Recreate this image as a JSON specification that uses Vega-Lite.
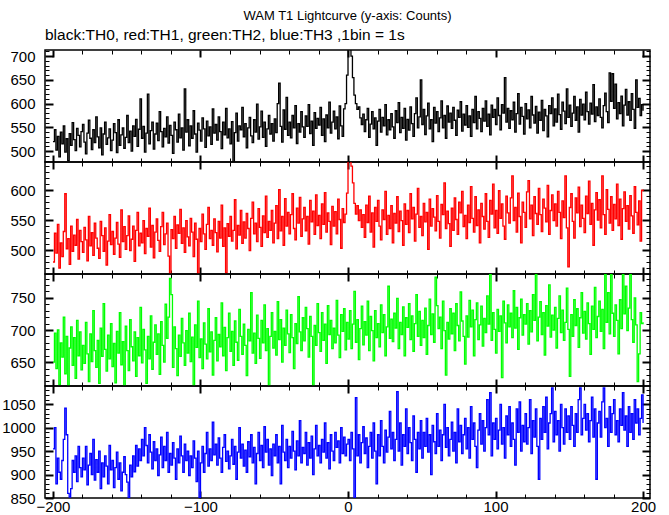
{
"$schema": "https://vega.github.io/schema/vega-lite/v6.json",
"background": "white",
"bounds": "flush",
"padding": {"left": 0, "right": 10, "top": 10, "bottom": 0},
"title": {"text": "WAM T1 Lightcurve (y-axis: Counts)", "anchor": "middle", "frame": "group", "fontSize": 13, "fontWeight": "normal", "font": "Liberation Sans", "color": "black", "offset": 4},
"config": {
  "view": {"stroke": "black", "strokeWidth": 1.5},
  "axis": {"domain": false, "grid": false, "labelFont": "Liberation Sans", "labelFontSize": 15, "labelColor": "black", "tickColor": "black", "labelOverlap": false, "labelFlush": false, "labelBound": false, "format": "d"}
},
"data": {"values": [
{"t":-200,"a":520,"b":480,"c":650,"d":955},{"t":-199,"a":545,"b":528,"c":695,"d":1000},{"t":-198,"a":502,"b":495,"c":640,"d":880},{"t":-197,"a":531,"b":543,"c":700,"d":935},{"t":-196,"a":488,"b":470,"c":615,"d":905},{"t":-195,"a":540,"b":512,"c":680,"d":890},{"t":-194,"a":515,"b":489,"c":658,"d":930},{"t":-193,"a":553,"b":531,"c":720,"d":975},{"t":-192,"a":498,"b":594,"c":632,"d":1042},{"t":-191,"a":526,"b":502,"c":690,"d":985},
{"t":-190,"a":480,"b":519,"c":610,"d":860},{"t":-189,"a":537,"b":476,"c":672,"d":852},{"t":-188,"a":512,"b":540,"c":705,"d":870},{"t":-187,"a":560,"b":498,"c":645,"d":930},{"t":-186,"a":524,"b":525,"c":688,"d":905},{"t":-185,"a":501,"b":508,"c":625,"d":940},{"t":-184,"a":548,"b":551,"c":715,"d":885},{"t":-183,"a":533,"b":485,"c":660,"d":960},{"t":-182,"a":509,"b":533,"c":697,"d":915},{"t":-181,"a":541,"b":514,"c":638,"d":895},
{"t":-180,"a":556,"b":496,"c":676,"d":935},{"t":-179,"a":519,"b":538,"c":648,"d":910},{"t":-178,"a":494,"b":517,"c":712,"d":960},{"t":-177,"a":538,"b":482,"c":663,"d":878},{"t":-176,"a":565,"b":556,"c":620,"d":920},{"t":-175,"a":527,"b":507,"c":694,"d":945},{"t":-174,"a":503,"b":529,"c":651,"d":900},{"t":-173,"a":545,"b":491,"c":730,"d":975},{"t":-172,"a":518,"b":545,"c":668,"d":888},{"t":-171,"a":572,"b":520,"c":642,"d":932},
{"t":-170,"a":530,"b":503,"c":684,"d":905},{"t":-169,"a":507,"b":486,"c":617,"d":950},{"t":-168,"a":549,"b":548,"c":703,"d":870},{"t":-167,"a":492,"b":524,"c":659,"d":925},{"t":-166,"a":536,"b":498,"c":741,"d":895},{"t":-165,"a":561,"b":537,"c":670,"d":940},{"t":-164,"a":514,"b":475,"c":636,"d":918},{"t":-163,"a":528,"b":515,"c":692,"d":880},{"t":-162,"a":547,"b":559,"c":655,"d":962},{"t":-161,"a":501,"b":509,"c":710,"d":910},
{"t":-160,"a":523,"b":531,"c":643,"d":930},{"t":-159,"a":558,"b":493,"c":679,"d":872},{"t":-158,"a":539,"b":520,"c":618,"d":915},{"t":-157,"a":497,"b":546,"c":698,"d":948},{"t":-156,"a":566,"b":510,"c":664,"d":890},{"t":-155,"a":512,"b":488,"c":727,"d":925},{"t":-154,"a":534,"b":567,"c":646,"d":865},{"t":-153,"a":549,"b":514,"c":682,"d":905},{"t":-152,"a":506,"b":539,"c":613,"d":938},{"t":-151,"a":529,"b":501,"c":706,"d":900},
{"t":-150,"a":575,"b":524,"c":668,"d":884},{"t":-149,"a":518,"b":557,"c":637,"d":851},{"t":-148,"a":542,"b":499,"c":716,"d":920},{"t":-147,"a":500,"b":518,"c":674,"d":895},{"t":-146,"a":553,"b":540,"c":652,"d":940},{"t":-145,"a":531,"b":481,"c":697,"d":906},{"t":-144,"a":567,"b":533,"c":628,"d":962},{"t":-143,"a":510,"b":563,"c":688,"d":918},{"t":-142,"a":546,"b":507,"c":660,"d":955},{"t":-141,"a":610,"b":528,"c":735,"d":930},
{"t":-140,"a":527,"b":512,"c":649,"d":975},{"t":-139,"a":552,"b":549,"c":701,"d":940},{"t":-138,"a":498,"b":494,"c":669,"d":1000},{"t":-137,"a":538,"b":536,"c":617,"d":962},{"t":-136,"a":620,"b":523,"c":690,"d":925},{"t":-135,"a":515,"b":570,"c":655,"d":985},{"t":-134,"a":543,"b":505,"c":722,"d":948},{"t":-133,"a":561,"b":541,"c":639,"d":912},{"t":-132,"a":504,"b":487,"c":681,"d":970},{"t":-131,"a":536,"b":530,"c":708,"d":930},
{"t":-130,"a":559,"b":552,"c":662,"d":955},{"t":-129,"a":522,"b":516,"c":694,"d":898},{"t":-128,"a":583,"b":498,"c":631,"d":942},{"t":-127,"a":541,"b":539,"c":713,"d":980},{"t":-126,"a":509,"b":563,"c":676,"d":915},{"t":-125,"a":548,"b":509,"c":650,"d":960},{"t":-124,"a":530,"b":527,"c":740,"d":930},{"t":-123,"a":572,"b":545,"c":687,"d":990},{"t":-122,"a":517,"b":490,"c":720,"d":905},{"t":-121,"a":554,"b":460,"c":780,"d":945},
{"t":-120,"a":533,"b":534,"c":755,"d":920},{"t":-119,"a":495,"b":519,"c":642,"d":968},{"t":-118,"a":561,"b":556,"c":705,"d":935},{"t":-117,"a":545,"b":503,"c":671,"d":890},{"t":-116,"a":519,"b":542,"c":629,"d":955},{"t":-115,"a":578,"b":528,"c":692,"d":925},{"t":-114,"a":528,"b":568,"c":659,"d":982},{"t":-113,"a":549,"b":511,"c":718,"d":940},{"t":-112,"a":502,"b":537,"c":680,"d":905},{"t":-111,"a":631,"b":496,"c":645,"d":965},
{"t":-110,"a":540,"b":549,"c":699,"d":930},{"t":-109,"a":566,"b":522,"c":664,"d":950},{"t":-108,"a":511,"b":507,"c":726,"d":898},{"t":-107,"a":553,"b":553,"c":651,"d":940},{"t":-106,"a":527,"b":530,"c":689,"d":915},{"t":-105,"a":585,"b":489,"c":614,"d":972},{"t":-104,"a":536,"b":545,"c":708,"d":935},{"t":-103,"a":498,"b":518,"c":673,"d":885},{"t":-102,"a":559,"b":461,"c":745,"d":950},{"t":-101,"a":544,"b":536,"c":657,"d":850},
{"t":-100,"a":521,"b":514,"c":686,"d":925},{"t":-99,"a":570,"b":560,"c":640,"d":960},{"t":-98,"a":547,"b":527,"c":711,"d":905},{"t":-97,"a":508,"b":501,"c":678,"d":945},{"t":-96,"a":563,"b":543,"c":655,"d":990},{"t":-95,"a":532,"b":571,"c":733,"d":918},{"t":-94,"a":551,"b":519,"c":666,"d":955},{"t":-93,"a":514,"b":533,"c":697,"d":930},{"t":-92,"a":589,"b":508,"c":630,"d":1012},{"t":-91,"a":538,"b":552,"c":684,"d":942},
{"t":-90,"a":556,"b":529,"c":719,"d":965},{"t":-89,"a":523,"b":497,"c":652,"d":920},{"t":-88,"a":572,"b":548,"c":693,"d":978},{"t":-87,"a":541,"b":520,"c":674,"d":935},{"t":-86,"a":505,"b":575,"c":742,"d":905},{"t":-85,"a":561,"b":506,"c":660,"d":958},{"t":-84,"a":534,"b":537,"c":704,"d":985},{"t":-83,"a":590,"b":462,"c":637,"d":928},{"t":-82,"a":528,"b":544,"c":688,"d":950},{"t":-81,"a":547,"b":523,"c":726,"d":912},
{"t":-80,"a":515,"b":556,"c":667,"d":940},{"t":-79,"a":562,"b":515,"c":698,"d":975},{"t":-78,"a":468,"b":533,"c":645,"d":922},{"t":-77,"a":539,"b":584,"c":714,"d":960},{"t":-76,"a":580,"b":502,"c":681,"d":890},{"t":-75,"a":521,"b":541,"c":653,"d":948},{"t":-74,"a":553,"b":525,"c":732,"d":1000},{"t":-73,"a":545,"b":566,"c":690,"d":935},{"t":-72,"a":592,"b":511,"c":662,"d":965},{"t":-71,"a":530,"b":547,"c":709,"d":918},
{"t":-70,"a":558,"b":520,"c":676,"d":952},{"t":-69,"a":507,"b":561,"c":629,"d":905},{"t":-68,"a":549,"b":536,"c":701,"d":970},{"t":-67,"a":571,"b":499,"c":683,"d":938},{"t":-66,"a":532,"b":553,"c":758,"d":985},{"t":-65,"a":518,"b":580,"c":664,"d":925},{"t":-64,"a":566,"b":527,"c":695,"d":958},{"t":-63,"a":540,"b":545,"c":648,"d":880},{"t":-62,"a":599,"b":514,"c":723,"d":945},{"t":-61,"a":525,"b":569,"c":687,"d":990},
{"t":-60,"a":551,"b":538,"c":656,"d":930},{"t":-59,"a":584,"b":506,"c":715,"d":962},{"t":-58,"a":529,"b":557,"c":680,"d":915},{"t":-57,"a":561,"b":529,"c":739,"d":1002},{"t":-56,"a":510,"b":590,"c":668,"d":948},{"t":-55,"a":547,"b":521,"c":702,"d":975},{"t":-54,"a":575,"b":548,"c":612,"d":920},{"t":-53,"a":536,"b":533,"c":690,"d":955},{"t":-52,"a":558,"b":566,"c":727,"d":898},{"t":-51,"a":521,"b":512,"c":672,"d":965},
{"t":-50,"a":568,"b":545,"c":698,"d":940},{"t":-49,"a":539,"b":574,"c":661,"d":985},{"t":-48,"a":600,"b":519,"c":744,"d":925},{"t":-47,"a":643,"b":601,"c":685,"d":960},{"t":-46,"a":552,"b":532,"c":716,"d":880},{"t":-45,"a":519,"b":556,"c":650,"d":1005},{"t":-44,"a":587,"b":508,"c":703,"d":948},{"t":-43,"a":546,"b":586,"c":676,"d":930},{"t":-42,"a":613,"b":540,"c":731,"d":975},{"t":-41,"a":533,"b":563,"c":694,"d":915},
{"t":-40,"a":561,"b":527,"c":665,"d":960},{"t":-39,"a":528,"b":559,"c":724,"d":935},{"t":-38,"a":575,"b":594,"c":688,"d":992},{"t":-37,"a":549,"b":536,"c":640,"d":950},{"t":-36,"a":596,"b":517,"c":710,"d":910},{"t":-35,"a":516,"b":570,"c":679,"d":972},{"t":-34,"a":558,"b":545,"c":752,"d":940},{"t":-33,"a":540,"b":588,"c":697,"d":1015},{"t":-32,"a":583,"b":523,"c":668,"d":925},{"t":-31,"a":551,"b":552,"c":719,"d":958},
{"t":-30,"a":529,"b":571,"c":683,"d":945},{"t":-29,"a":574,"b":532,"c":735,"d":990},{"t":-28,"a":552,"b":556,"c":702,"d":920},{"t":-27,"a":598,"b":510,"c":658,"d":968},{"t":-26,"a":537,"b":583,"c":721,"d":935},{"t":-25,"a":563,"b":547,"c":690,"d":982},{"t":-24,"a":512,"b":565,"c":614,"d":900},{"t":-23,"a":581,"b":526,"c":707,"d":955},{"t":-22,"a":548,"b":592,"c":676,"d":1005},{"t":-21,"a":569,"b":541,"c":741,"d":940},
{"t":-20,"a":555,"b":558,"c":696,"d":962},{"t":-19,"a":592,"b":519,"c":667,"d":925},{"t":-18,"a":533,"b":577,"c":727,"d":975},{"t":-17,"a":568,"b":543,"c":684,"d":948},{"t":-16,"a":520,"b":596,"c":709,"d":1010},{"t":-15,"a":576,"b":530,"c":648,"d":935},{"t":-14,"a":549,"b":562,"c":738,"d":968},{"t":-13,"a":603,"b":548,"c":693,"d":912},{"t":-12,"a":538,"b":509,"c":715,"d":985},{"t":-11,"a":561,"b":573,"c":671,"d":950},
{"t":-10,"a":584,"b":540,"c":703,"d":930},{"t":-9,"a":547,"b":564,"c":680,"d":990},{"t":-8,"a":572,"b":527,"c":746,"d":958},{"t":-7,"a":526,"b":585,"c":692,"d":972},{"t":-6,"a":595,"b":551,"c":657,"d":925},{"t":-5,"a":553,"b":503,"c":724,"d":1000},{"t":-4,"a":531,"b":569,"c":698,"d":945},{"t":-3,"a":589,"b":546,"c":733,"d":980},{"t":-2,"a":600,"b":560,"c":669,"d":940},{"t":-1,"a":660,"b":595,"c":712,"d":965},
{"t":0,"a":730,"b":650,"c":686,"d":975},{"t":1,"a":725,"b":658,"c":730,"d":930},{"t":2,"a":700,"b":640,"c":671,"d":990},{"t":3,"a":655,"b":612,"c":709,"d":955},{"t":4,"a":618,"b":578,"c":760,"d":848},{"t":5,"a":600,"b":560,"c":681,"d":1064},{"t":6,"a":588,"b":574,"c":716,"d":940},{"t":7,"a":593,"b":549,"c":654,"d":985},{"t":8,"a":570,"b":567,"c":702,"d":925},{"t":9,"a":556,"b":538,"c":737,"d":968},
{"t":10,"a":578,"b":559,"c":677,"d":1002},{"t":11,"a":541,"b":521,"c":713,"d":945},{"t":12,"a":566,"b":575,"c":692,"d":978},{"t":13,"a":590,"b":546,"c":745,"d":915},{"t":14,"a":529,"b":590,"c":668,"d":960},{"t":15,"a":557,"b":530,"c":721,"d":990},{"t":16,"a":583,"b":562,"c":699,"d":935},{"t":17,"a":547,"b":505,"c":652,"d":1010},{"t":18,"a":570,"b":571,"c":730,"d":950},{"t":19,"a":512,"b":548,"c":688,"d":880},
{"t":20,"a":563,"b":583,"c":710,"d":985},{"t":21,"a":588,"b":540,"c":674,"d":940},{"t":22,"a":540,"b":517,"c":739,"d":1015},{"t":23,"a":571,"b":567,"c":696,"d":960},{"t":24,"a":553,"b":551,"c":724,"d":925},{"t":25,"a":598,"b":598,"c":660,"d":995},{"t":26,"a":534,"b":526,"c":705,"d":948},{"t":27,"a":566,"b":558,"c":768,"d":980},{"t":28,"a":545,"b":536,"c":687,"d":1035},{"t":29,"a":579,"b":574,"c":717,"d":955},
{"t":30,"a":551,"b":512,"c":682,"d":990},{"t":31,"a":527,"b":561,"c":726,"d":930},{"t":32,"a":585,"b":545,"c":703,"d":975},{"t":33,"a":560,"b":589,"c":749,"d":1077},{"t":34,"a":602,"b":531,"c":671,"d":950},{"t":35,"a":539,"b":565,"c":712,"d":1010},{"t":36,"a":571,"b":549,"c":693,"d":920},{"t":37,"a":548,"b":508,"c":736,"d":985},{"t":38,"a":590,"b":577,"c":660,"d":960},{"t":39,"a":523,"b":543,"c":719,"d":1040},
{"t":40,"a":567,"b":566,"c":704,"d":945},{"t":41,"a":544,"b":529,"c":741,"d":1000},{"t":42,"a":593,"b":594,"c":685,"d":968},{"t":43,"a":558,"b":552,"c":722,"d":930},{"t":44,"a":531,"b":571,"c":667,"d":1025},{"t":45,"a":579,"b":515,"c":710,"d":975},{"t":46,"a":612,"b":560,"c":755,"d":905},{"t":47,"a":549,"b":603,"c":690,"d":990},{"t":48,"a":572,"b":538,"c":729,"d":955},{"t":49,"a":650,"b":556,"c":676,"d":1015},
{"t":50,"a":556,"b":524,"c":715,"d":935},{"t":51,"a":588,"b":578,"c":688,"d":990},{"t":52,"a":535,"b":547,"c":734,"d":960},{"t":53,"a":574,"b":563,"c":662,"d":1020},{"t":54,"a":601,"b":501,"c":707,"d":948},{"t":55,"a":547,"b":585,"c":748,"d":985},{"t":56,"a":566,"b":540,"c":693,"d":900},{"t":57,"a":520,"b":569,"c":725,"d":1005},{"t":58,"a":592,"b":555,"c":681,"d":970},{"t":59,"a":559,"b":532,"c":782,"d":945},
{"t":60,"a":583,"b":591,"c":738,"d":1030},{"t":61,"a":541,"b":548,"c":702,"d":960},{"t":62,"a":570,"b":520,"c":720,"d":995},{"t":63,"a":606,"b":576,"c":671,"d":930},{"t":64,"a":549,"b":559,"c":745,"d":985},{"t":65,"a":575,"b":612,"c":699,"d":1050},{"t":66,"a":527,"b":536,"c":630,"d":958},{"t":67,"a":595,"b":565,"c":712,"d":1000},{"t":68,"a":561,"b":544,"c":686,"d":940},{"t":69,"a":580,"b":506,"c":733,"d":975},
{"t":70,"a":548,"b":570,"c":694,"d":1012},{"t":71,"a":592,"b":533,"c":726,"d":950},{"t":72,"a":565,"b":587,"c":668,"d":990},{"t":73,"a":533,"b":551,"c":741,"d":925},{"t":74,"a":586,"b":526,"c":707,"d":1040},{"t":75,"a":571,"b":580,"c":683,"d":970},{"t":76,"a":604,"b":562,"c":759,"d":1005},{"t":77,"a":542,"b":598,"c":714,"d":945},{"t":78,"a":578,"b":539,"c":690,"d":985},{"t":79,"a":555,"b":558,"c":647,"d":1020},
{"t":80,"a":596,"b":519,"c":722,"d":955},{"t":81,"a":550,"b":575,"c":689,"d":1000},{"t":82,"a":574,"b":546,"c":746,"d":935},{"t":83,"a":531,"b":606,"c":705,"d":1045},{"t":84,"a":588,"b":553,"c":731,"d":975},{"t":85,"a":560,"b":530,"c":660,"d":1010},{"t":86,"a":615,"b":589,"c":716,"d":960},{"t":87,"a":547,"b":541,"c":742,"d":915},{"t":88,"a":583,"b":567,"c":685,"d":995},{"t":89,"a":569,"b":512,"c":708,"d":1030},
{"t":90,"a":541,"b":578,"c":737,"d":965},{"t":91,"a":590,"b":556,"c":675,"d":1015},{"t":92,"a":563,"b":535,"c":718,"d":950},{"t":93,"a":606,"b":594,"c":696,"d":1000},{"t":94,"a":552,"b":548,"c":753,"d":1060},{"t":95,"a":578,"b":521,"c":709,"d":985},{"t":96,"a":534,"b":583,"c":786,"d":1075},{"t":97,"a":597,"b":560,"c":684,"d":940},{"t":98,"a":571,"b":610,"c":727,"d":1010},{"t":99,"a":588,"b":537,"c":701,"d":975},
{"t":100,"a":556,"b":566,"c":664,"d":1020},{"t":101,"a":612,"b":528,"c":732,"d":955},{"t":102,"a":575,"b":599,"c":698,"d":995},{"t":103,"a":545,"b":553,"c":722,"d":1050},{"t":104,"a":598,"b":577,"c":626,"d":965},{"t":105,"a":580,"b":540,"c":745,"d":1000},{"t":106,"a":655,"b":518,"c":711,"d":935},{"t":107,"a":561,"b":590,"c":680,"d":1025},{"t":108,"a":590,"b":562,"c":739,"d":985},{"t":109,"a":548,"b":545,"c":705,"d":1045},
{"t":110,"a":585,"b":587,"c":726,"d":960},{"t":111,"a":566,"b":624,"c":688,"d":1010},{"t":112,"a":603,"b":549,"c":761,"d":975},{"t":113,"a":540,"b":571,"c":703,"d":920},{"t":114,"a":579,"b":530,"c":735,"d":1040},{"t":115,"a":621,"b":595,"c":670,"d":990},{"t":116,"a":557,"b":556,"c":719,"d":1055},{"t":117,"a":592,"b":512,"c":748,"d":950},{"t":118,"a":573,"b":580,"c":692,"d":1005},{"t":119,"a":536,"b":563,"c":724,"d":970},
{"t":120,"a":600,"b":538,"c":709,"d":1030},{"t":121,"a":568,"b":597,"c":741,"d":965},{"t":122,"a":587,"b":616,"c":678,"d":1000},{"t":123,"a":549,"b":552,"c":730,"d":1060},{"t":124,"a":615,"b":575,"c":697,"d":945},{"t":125,"a":576,"b":524,"c":755,"d":1015},{"t":126,"a":559,"b":589,"c":715,"d":980},{"t":127,"a":594,"b":561,"c":786,"d":1040},{"t":128,"a":538,"b":543,"c":683,"d":960},{"t":129,"a":582,"b":603,"c":720,"d":890},
{"t":130,"a":565,"b":559,"c":744,"d":1020},{"t":131,"a":607,"b":531,"c":693,"d":975},{"t":132,"a":543,"b":585,"c":727,"d":1045},{"t":133,"a":588,"b":570,"c":661,"d":990},{"t":134,"a":574,"b":547,"c":738,"d":1065},{"t":135,"a":530,"b":608,"c":706,"d":955},{"t":136,"a":596,"b":526,"c":770,"d":1010},{"t":137,"a":579,"b":566,"c":689,"d":1030},{"t":138,"a":612,"b":592,"c":723,"d":1085},{"t":139,"a":553,"b":549,"c":700,"d":970},
{"t":140,"a":589,"b":577,"c":735,"d":1035},{"t":141,"a":561,"b":540,"c":672,"d":985},{"t":142,"a":620,"b":598,"c":718,"d":1015},{"t":143,"a":577,"b":563,"c":753,"d":950},{"t":144,"a":546,"b":519,"c":696,"d":1050},{"t":145,"a":603,"b":582,"c":731,"d":1000},{"t":146,"a":584,"b":554,"c":684,"d":965},{"t":147,"a":558,"b":624,"c":712,"d":1040},{"t":148,"a":631,"b":537,"c":765,"d":990},{"t":149,"a":571,"b":472,"c":701,"d":1025},
{"t":150,"a":597,"b":571,"c":628,"d":975},{"t":151,"a":552,"b":594,"c":724,"d":1045},{"t":152,"a":580,"b":548,"c":690,"d":1005},{"t":153,"a":615,"b":520,"c":747,"d":960},{"t":154,"a":565,"b":587,"c":707,"d":1030},{"t":155,"a":593,"b":562,"c":733,"d":990},{"t":156,"a":540,"b":605,"c":673,"d":1060},{"t":157,"a":609,"b":539,"c":719,"d":1085},{"t":158,"a":576,"b":575,"c":758,"d":985},{"t":159,"a":599,"b":553,"c":695,"d":1020},
{"t":160,"a":566,"b":529,"c":729,"d":1050},{"t":161,"a":624,"b":590,"c":686,"d":995},{"t":162,"a":583,"b":561,"c":742,"d":1030},{"t":163,"a":557,"b":615,"c":710,"d":970},{"t":164,"a":601,"b":543,"c":662,"d":1015},{"t":165,"a":578,"b":578,"c":737,"d":1065},{"t":166,"a":640,"b":508,"c":701,"d":980},{"t":167,"a":562,"b":567,"c":766,"d":1040},{"t":168,"a":593,"b":596,"c":688,"d":890},{"t":169,"a":575,"b":550,"c":721,"d":1010},
{"t":170,"a":610,"b":584,"c":745,"d":1035},{"t":171,"a":571,"b":537,"c":698,"d":980},{"t":172,"a":549,"b":624,"c":732,"d":1055},{"t":173,"a":596,"b":559,"c":671,"d":1085},{"t":174,"a":622,"b":526,"c":786,"d":1000},{"t":175,"a":583,"b":601,"c":712,"d":1020},{"t":176,"a":560,"b":568,"c":758,"d":960},{"t":177,"a":665,"b":545,"c":694,"d":1045},{"t":178,"a":605,"b":589,"c":786,"d":990},{"t":179,"a":663,"b":533,"c":726,"d":1030},
{"t":180,"a":590,"b":576,"c":690,"d":1060},{"t":181,"a":641,"b":552,"c":739,"d":985},{"t":182,"a":568,"b":610,"c":715,"d":1015},{"t":183,"a":602,"b":541,"c":663,"d":970},{"t":184,"a":579,"b":585,"c":747,"d":1040},{"t":185,"a":616,"b":518,"c":702,"d":1005},{"t":186,"a":553,"b":569,"c":786,"d":1075},{"t":187,"a":597,"b":597,"c":725,"d":995},{"t":188,"a":630,"b":548,"c":768,"d":1025},{"t":189,"a":576,"b":574,"c":699,"d":960},
{"t":190,"a":604,"b":535,"c":734,"d":1045},{"t":191,"a":565,"b":591,"c":786,"d":990},{"t":192,"a":621,"b":557,"c":716,"d":1030},{"t":193,"a":588,"b":528,"c":681,"d":975},{"t":194,"a":548,"b":606,"c":750,"d":1060},{"t":195,"a":650,"b":563,"c":708,"d":1010},{"t":196,"a":592,"b":542,"c":620,"d":1040},{"t":197,"a":611,"b":582,"c":663,"d":985},{"t":198,"a":575,"b":515,"c":727,"d":1020},{"t":199,"a":598,"b":600,"c":710,"d":1070},
{"t":200,"a":585,"b":598,"c":712,"d":1010}
]},
"spacing": 0,
"vconcat": [
{
 "title": {"text": "black:TH0, red:TH1, green:TH2, blue:TH3 ,1bin = 1s", "anchor": "start", "frame": "group", "fontSize": 15.5, "fontWeight": "normal", "font": "Liberation Sans", "color": "black", "offset": 1},
 "width": 605, "height": 112,
 "layer": [
  {"mark": {"type": "line", "interpolate": "step-after", "color": "black", "strokeWidth": 1.3, "clip": true},
   "encoding": {
    "x": {"field": "t", "type": "quantitative", "scale": {"domain": [-205.4, 204.7], "nice": false, "zero": false},
      "axis": {"orient": "bottom", "title": null, "labels": false, "values": [-200,-180,-160,-140,-120,-100,-80,-60,-40,-20,0,20,40,60,80,100,120,140,160,180,200], "tickSize": {"condition": {"test": "datum.value % 100 === 0", "value": -7}, "value": -4}, "tickWidth": {"condition": {"test": "datum.value % 100 === 0", "value": 2}, "value": 1}}},
    "y": {"field": "a", "type": "quantitative", "scale": {"domain": [477, 713], "nice": false, "zero": false},
      "axis": {"orient": "left", "title": null, "values": [480,490,500,510,520,530,540,550,560,570,580,590,600,610,620,630,640,650,660,670,680,690,700,710], "labelExpr": "datum.value % 50 === 0 ? datum.label : ''", "labelPadding": 18, "tickSize": {"condition": {"test": "datum.value % 50 === 0", "value": -8}, "value": -4}, "tickWidth": {"condition": {"test": "datum.value % 50 === 0", "value": 2}, "value": 1}}}
   }},
  {"mark": {"type": "line", "interpolate": "step-after", "opacity": 0, "clip": true},
   "encoding": {
    "x": {"field": "t", "type": "quantitative", "scale": {"domain": [-205.4, 204.7], "nice": false, "zero": false},
      "axis": {"orient": "top", "title": null, "labels": false, "values": [-200,-180,-160,-140,-120,-100,-80,-60,-40,-20,0,20,40,60,80,100,120,140,160,180,200], "tickSize": {"condition": {"test": "datum.value % 100 === 0", "value": -7}, "value": -4}, "tickWidth": {"condition": {"test": "datum.value % 100 === 0", "value": 2}, "value": 1}}},
    "y": {"field": "a", "type": "quantitative", "scale": {"domain": [477, 713], "nice": false, "zero": false},
      "axis": {"orient": "right", "title": null, "labels": false, "values": [480,490,500,510,520,530,540,550,560,570,580,590,600,610,620,630,640,650,660,670,680,690,700,710], "tickSize": {"condition": {"test": "datum.value % 50 === 0", "value": -8}, "value": -4}, "tickWidth": {"condition": {"test": "datum.value % 50 === 0", "value": 2}, "value": 1}}}
   }}
 ],
 "resolve": {"axis": {"x": "independent", "y": "independent"}}
},
{
 "width": 605, "height": 112,
 "layer": [
  {"mark": {"type": "line", "interpolate": "step-after", "color": "#ff0000", "strokeWidth": 1.3, "clip": true},
   "encoding": {
    "x": {"field": "t", "type": "quantitative", "scale": {"domain": [-205.4, 204.7], "nice": false, "zero": false},
      "axis": {"orient": "bottom", "title": null, "labels": false, "values": [-200,-180,-160,-140,-120,-100,-80,-60,-40,-20,0,20,40,60,80,100,120,140,160,180,200], "tickSize": {"condition": {"test": "datum.value % 100 === 0", "value": -7}, "value": -4}, "tickWidth": {"condition": {"test": "datum.value % 100 === 0", "value": 2}, "value": 1}}},
    "y": {"field": "b", "type": "quantitative", "scale": {"domain": [460, 647], "nice": false, "zero": false},
      "axis": {"orient": "left", "title": null, "values": [460,470,480,490,500,510,520,530,540,550,560,570,580,590,600,610,620,630,640], "labelExpr": "datum.value % 50 === 0 ? datum.label : ''", "labelPadding": 18, "tickSize": {"condition": {"test": "datum.value % 50 === 0", "value": -8}, "value": -4}, "tickWidth": {"condition": {"test": "datum.value % 50 === 0", "value": 2}, "value": 1}}}
   }},
  {"mark": {"type": "line", "interpolate": "step-after", "opacity": 0, "clip": true},
   "encoding": {
    "x": {"field": "t", "type": "quantitative", "scale": {"domain": [-205.4, 204.7], "nice": false, "zero": false},
      "axis": {"orient": "top", "title": null, "labels": false, "values": [-200,-180,-160,-140,-120,-100,-80,-60,-40,-20,0,20,40,60,80,100,120,140,160,180,200], "tickSize": {"condition": {"test": "datum.value % 100 === 0", "value": -7}, "value": -4}, "tickWidth": {"condition": {"test": "datum.value % 100 === 0", "value": 2}, "value": 1}}},
    "y": {"field": "b", "type": "quantitative", "scale": {"domain": [460, 647], "nice": false, "zero": false},
      "axis": {"orient": "right", "title": null, "labels": false, "values": [460,470,480,490,500,510,520,530,540,550,560,570,580,590,600,610,620,630,640], "tickSize": {"condition": {"test": "datum.value % 50 === 0", "value": -8}, "value": -4}, "tickWidth": {"condition": {"test": "datum.value % 50 === 0", "value": 2}, "value": 1}}}
   }}
 ],
 "resolve": {"axis": {"x": "independent", "y": "independent"}}
},
{
 "width": 605, "height": 112,
 "layer": [
  {"mark": {"type": "line", "interpolate": "step-after", "color": "#00ff00", "strokeWidth": 1.3, "clip": true},
   "encoding": {
    "x": {"field": "t", "type": "quantitative", "scale": {"domain": [-205.4, 204.7], "nice": false, "zero": false},
      "axis": {"orient": "bottom", "title": null, "labels": false, "values": [-200,-180,-160,-140,-120,-100,-80,-60,-40,-20,0,20,40,60,80,100,120,140,160,180,200], "tickSize": {"condition": {"test": "datum.value % 100 === 0", "value": -7}, "value": -4}, "tickWidth": {"condition": {"test": "datum.value % 100 === 0", "value": 2}, "value": 1}}},
    "y": {"field": "c", "type": "quantitative", "scale": {"domain": [613, 787], "nice": false, "zero": false},
      "axis": {"orient": "left", "title": null, "values": [620,630,640,650,660,670,680,690,700,710,720,730,740,750,760,770,780], "labelExpr": "datum.value % 50 === 0 ? datum.label : ''", "labelPadding": 18, "tickSize": {"condition": {"test": "datum.value % 50 === 0", "value": -8}, "value": -4}, "tickWidth": {"condition": {"test": "datum.value % 50 === 0", "value": 2}, "value": 1}}}
   }},
  {"mark": {"type": "line", "interpolate": "step-after", "opacity": 0, "clip": true},
   "encoding": {
    "x": {"field": "t", "type": "quantitative", "scale": {"domain": [-205.4, 204.7], "nice": false, "zero": false},
      "axis": {"orient": "top", "title": null, "labels": false, "values": [-200,-180,-160,-140,-120,-100,-80,-60,-40,-20,0,20,40,60,80,100,120,140,160,180,200], "tickSize": {"condition": {"test": "datum.value % 100 === 0", "value": -7}, "value": -4}, "tickWidth": {"condition": {"test": "datum.value % 100 === 0", "value": 2}, "value": 1}}},
    "y": {"field": "c", "type": "quantitative", "scale": {"domain": [613, 787], "nice": false, "zero": false},
      "axis": {"orient": "right", "title": null, "labels": false, "values": [620,630,640,650,660,670,680,690,700,710,720,730,740,750,760,770,780], "tickSize": {"condition": {"test": "datum.value % 50 === 0", "value": -8}, "value": -4}, "tickWidth": {"condition": {"test": "datum.value % 50 === 0", "value": 2}, "value": 1}}}
   }}
 ],
 "resolve": {"axis": {"x": "independent", "y": "independent"}}
},
{
 "width": 605, "height": 112,
 "layer": [
  {"mark": {"type": "line", "interpolate": "step-after", "color": "#0000ff", "strokeWidth": 1.3, "clip": true},
   "encoding": {
    "x": {"field": "t", "type": "quantitative", "scale": {"domain": [-205.4, 204.7], "nice": false, "zero": false},
      "axis": {"orient": "bottom", "title": null, "values": [-200,-180,-160,-140,-120,-100,-80,-60,-40,-20,0,20,40,60,80,100,120,140,160,180,200], "labelExpr": "datum.value % 100 === 0 ? datum.label : ''", "labelPadding": 8, "tickSize": {"condition": {"test": "datum.value % 100 === 0", "value": -7}, "value": -4}, "tickWidth": {"condition": {"test": "datum.value % 100 === 0", "value": 2}, "value": 1}}},
    "y": {"field": "d", "type": "quantitative", "scale": {"domain": [850, 1089], "nice": false, "zero": false},
      "axis": {"orient": "left", "title": null, "values": [850,860,870,880,890,900,910,920,930,940,950,960,970,980,990,1000,1010,1020,1030,1040,1050,1060,1070,1080], "labelExpr": "datum.value % 50 === 0 ? datum.label : ''", "labelPadding": 18, "tickSize": {"condition": {"test": "datum.value % 50 === 0", "value": -8}, "value": -4}, "tickWidth": {"condition": {"test": "datum.value % 50 === 0", "value": 2}, "value": 1}}}
   }},
  {"mark": {"type": "line", "interpolate": "step-after", "opacity": 0, "clip": true},
   "encoding": {
    "x": {"field": "t", "type": "quantitative", "scale": {"domain": [-205.4, 204.7], "nice": false, "zero": false},
      "axis": {"orient": "top", "title": null, "labels": false, "values": [-200,-180,-160,-140,-120,-100,-80,-60,-40,-20,0,20,40,60,80,100,120,140,160,180,200], "tickSize": {"condition": {"test": "datum.value % 100 === 0", "value": -7}, "value": -4}, "tickWidth": {"condition": {"test": "datum.value % 100 === 0", "value": 2}, "value": 1}}},
    "y": {"field": "d", "type": "quantitative", "scale": {"domain": [850, 1089], "nice": false, "zero": false},
      "axis": {"orient": "right", "title": null, "labels": false, "values": [850,860,870,880,890,900,910,920,930,940,950,960,970,980,990,1000,1010,1020,1030,1040,1050,1060,1070,1080], "tickSize": {"condition": {"test": "datum.value % 50 === 0", "value": -8}, "value": -4}, "tickWidth": {"condition": {"test": "datum.value % 50 === 0", "value": 2}, "value": 1}}}
   }}
 ],
 "resolve": {"axis": {"x": "independent", "y": "independent"}}
}
]
}
